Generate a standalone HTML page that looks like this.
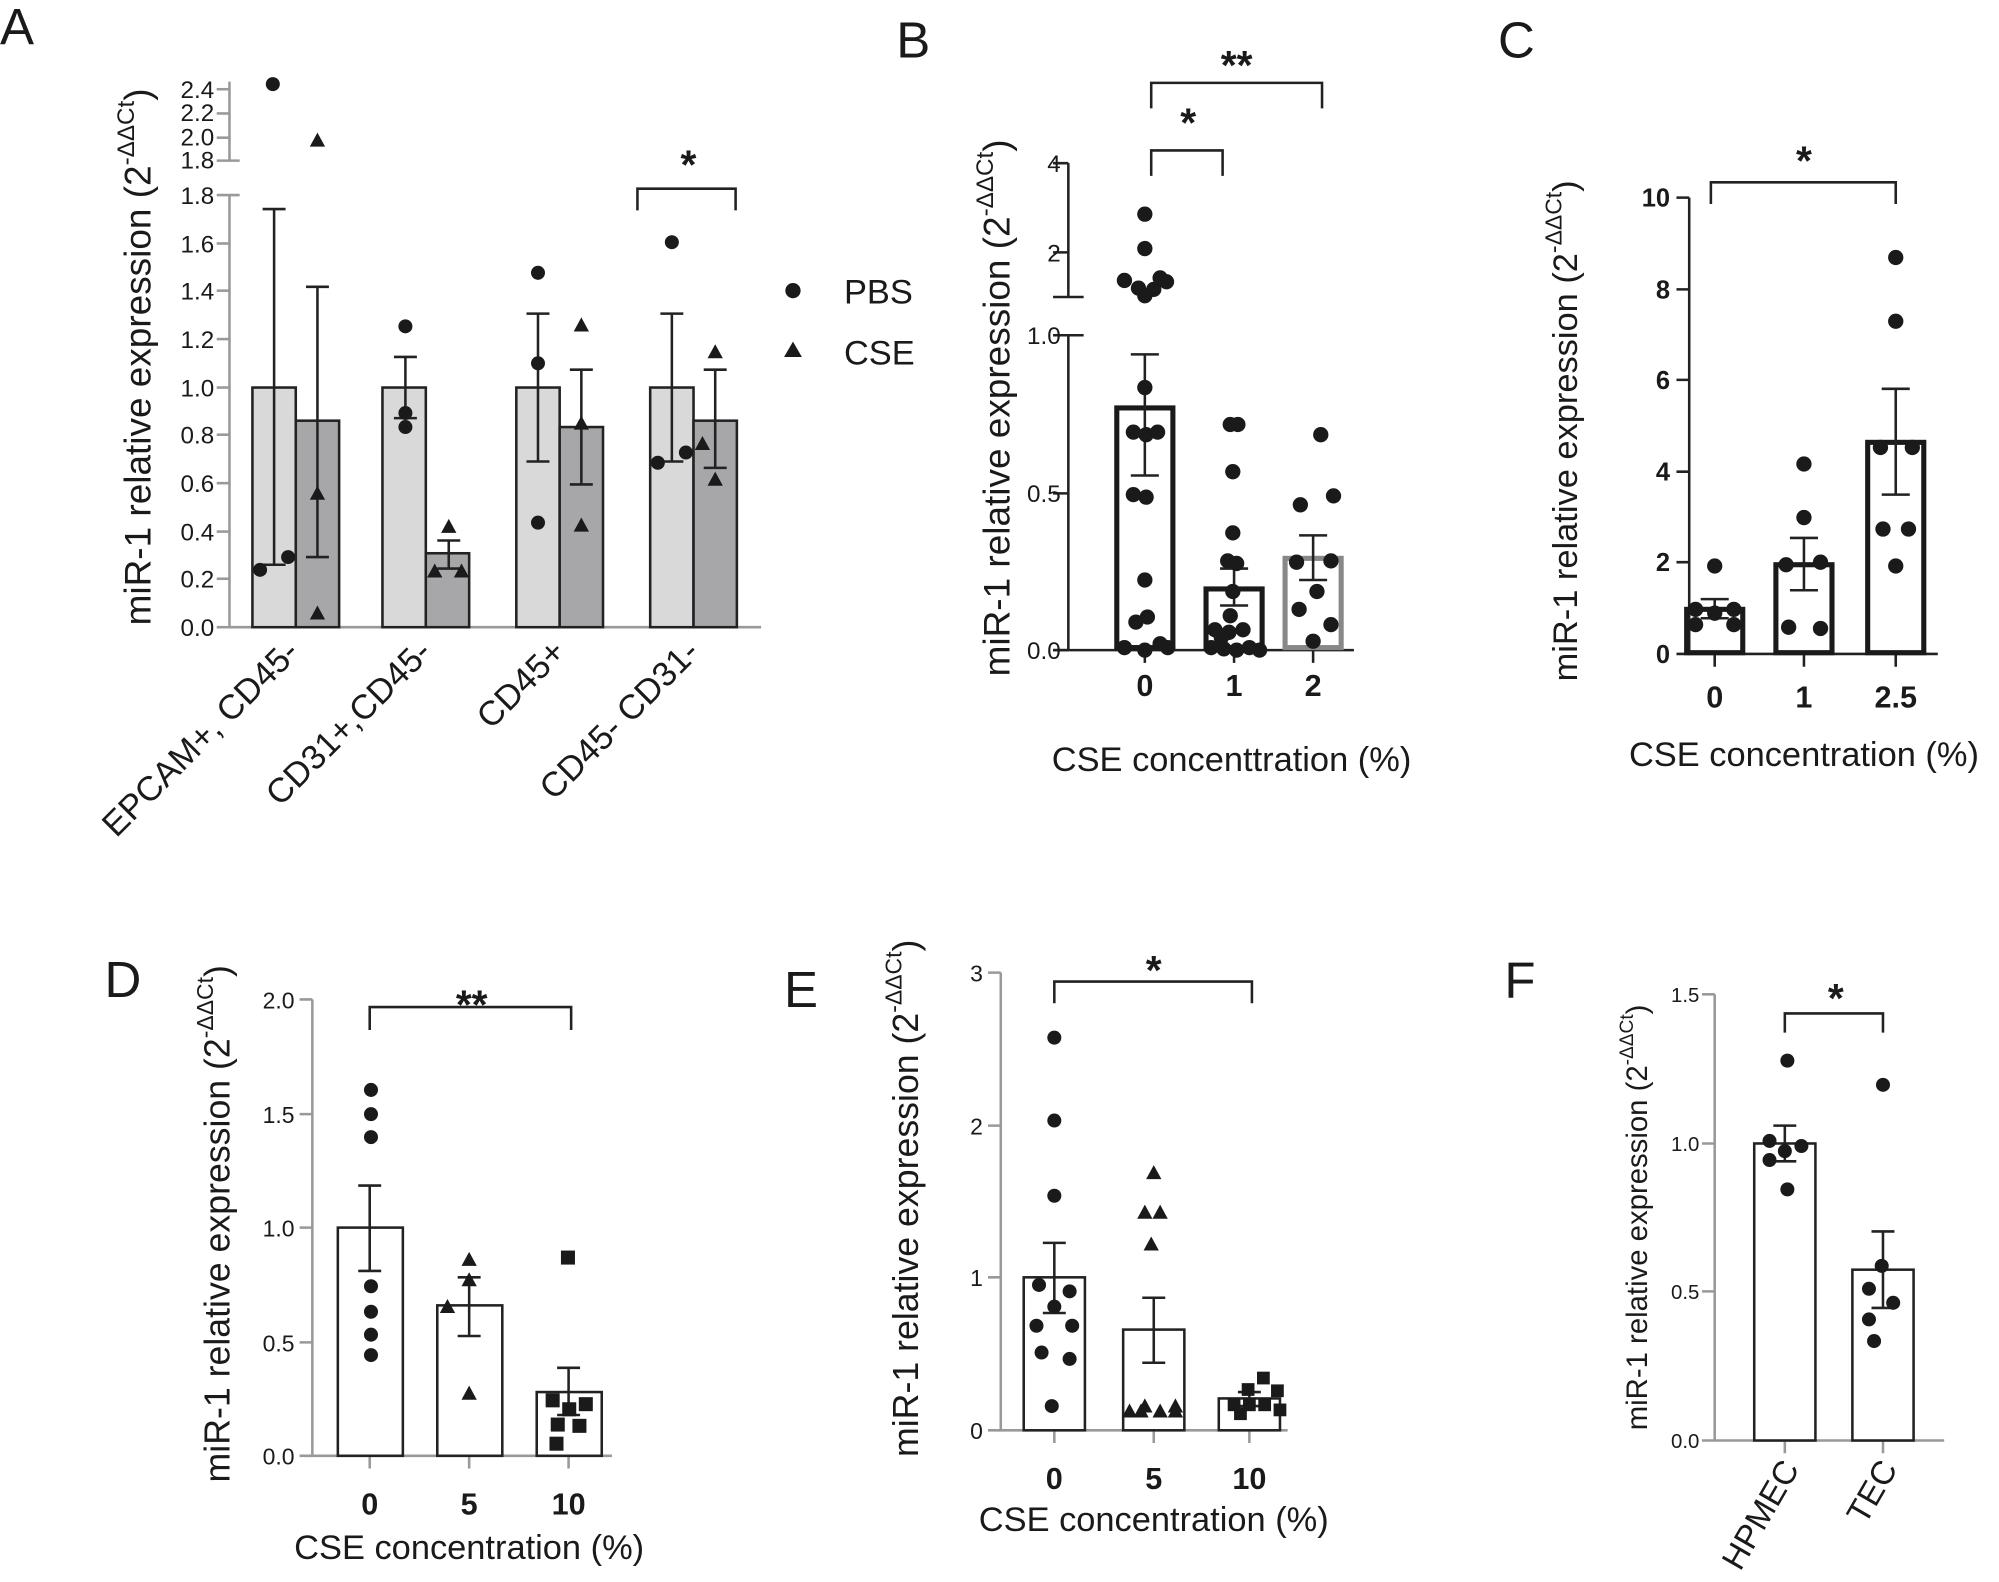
<!DOCTYPE html>
<html><head><meta charset="utf-8"><style>
html,body{margin:0;padding:0;background:#fff;}
svg{display:block;}
text{font-family:"Liberation Sans",Arial,sans-serif;fill:#1a1a1a;}
</style></head><body>
<svg width="1999" height="1582" viewBox="0 0 1568 1241" preserveAspectRatio="none" xmlns="http://www.w3.org/2000/svg">
<g font-size="40">
<text x="0" y="35">A</text><text x="703" y="45">B</text><text x="1175" y="45">C</text>
<text x="82" y="782">D</text><text x="615" y="790">E</text><text x="1180" y="783">F</text>
</g>

<!-- ============ PANEL A ============ -->
<g stroke="#999" stroke-width="2" fill="none">
<line x1="180" y1="153" x2="180" y2="492"/><line x1="180" y1="64" x2="180" y2="126"/>
<line x1="180" y1="492" x2="597" y2="492"/>
<line x1="170" y1="153" x2="188" y2="153"/><line x1="170" y1="126" x2="188" y2="126"/>
<line x1="170" y1="108" x2="180" y2="108"/><line x1="170" y1="89" x2="180" y2="89"/><line x1="170" y1="70" x2="180" y2="70"/>
<line x1="170" y1="191" x2="180" y2="191"/><line x1="170" y1="228" x2="180" y2="228"/><line x1="170" y1="266" x2="180" y2="266"/>
<line x1="170" y1="304" x2="180" y2="304"/><line x1="170" y1="341" x2="180" y2="341"/><line x1="170" y1="379" x2="180" y2="379"/>
<line x1="170" y1="417" x2="180" y2="417"/><line x1="170" y1="454" x2="180" y2="454"/><line x1="170" y1="492" x2="180" y2="492"/>
</g>
<g font-size="19" text-anchor="end">
<text x="168" y="77">2.4</text><text x="168" y="95">2.2</text><text x="168" y="114">2.0</text><text x="168" y="132">1.8</text>
<text x="168" y="160">1.8</text><text x="168" y="198">1.6</text><text x="168" y="235">1.4</text><text x="168" y="273">1.2</text>
<text x="168" y="311">1.0</text><text x="168" y="348">0.8</text><text x="168" y="386">0.6</text><text x="168" y="424">0.4</text>
<text x="168" y="461">0.2</text><text x="168" y="499">0.0</text>
</g>
<text transform="translate(118,280) rotate(-90)" font-size="29" text-anchor="middle">miR-1 relative expression (2<tspan font-size="19" dy="-13">-ΔΔCt</tspan><tspan dy="13">)</tspan></text>
<g stroke="#222" stroke-width="2">
<rect x="198" y="304" width="34" height="188" fill="#d9d9d9"/><rect x="232" y="330" width="34" height="162" fill="#a7a7a9"/>
<rect x="300" y="304" width="34" height="188" fill="#d9d9d9"/><rect x="334" y="434" width="34" height="58" fill="#a7a7a9"/>
<rect x="405" y="304" width="34" height="188" fill="#d9d9d9"/><rect x="439" y="335" width="34" height="157" fill="#a7a7a9"/>
<rect x="510" y="304" width="34" height="188" fill="#d9d9d9"/><rect x="544" y="330" width="34" height="162" fill="#a7a7a9"/>
</g>
<g stroke="#222" stroke-width="2" fill="none">
<path d="M215 164V443M206 164H224M206 443H224"/>
<path d="M249 225V437M240 225H258M240 437H258"/>
<path d="M318 280V328M309 280H327M309 328H327"/>
<path d="M352 424V446M343 424H361M343 446H361"/>
<path d="M422 246V362M413 246H431M413 362H431"/>
<path d="M456 290V380M447 290H465M447 380H465"/>
<path d="M527 246V362M518 246H536M518 362H536"/>
<path d="M561 290V367M552 290H570M552 367H570"/>
<path d="M500 165V148H577V165"/>
</g>
<text x="540" y="140" font-size="32" font-weight="bold" text-anchor="middle">*</text>
<g fill="#1a1a1a">
<circle cx="214" cy="66" r="5.5"/><circle cx="204" cy="447" r="5.5"/><circle cx="226" cy="437" r="5.5"/>
<path d="M249 104l6 11h-12z M249 381l6 11h-12z M249 475l6 11h-12z"/>
<circle cx="318" cy="256" r="5.5"/><circle cx="318" cy="324" r="5.5"/><circle cx="318" cy="335" r="5.5"/>
<path d="M352 407l6 11h-12z M341 442l6 11h-12z M362 442l6 11h-12z"/>
<circle cx="422" cy="214" r="5.5"/><circle cx="422" cy="285" r="5.5"/><circle cx="422" cy="410" r="5.5"/>
<path d="M456 249l6 11h-12z M456 326l6 11h-12z M456 406l6 11h-12z"/>
<circle cx="527" cy="190" r="5.5"/><circle cx="516" cy="363" r="5.5"/><circle cx="538" cy="355" r="5.5"/>
<path d="M561 270l6 11h-12z M551 342l6 11h-12z M561 370l6 11h-12z"/>
<circle cx="622" cy="228" r="6"/><path d="M622 268l7 12h-14z"/>
</g>
<text x="662" y="238" font-size="27">PBS</text><text x="662" y="286" font-size="27">CSE</text>
<g font-size="27" text-anchor="end">
<text transform="translate(236,513) rotate(-45)">EPCAM+, CD45-</text>
<text transform="translate(340,513) rotate(-45)">CD31+,CD45-</text>
<text transform="translate(445,513) rotate(-45)">CD45+</text>
<text transform="translate(550,513) rotate(-45)">CD45- CD31-</text>
</g>

<!-- ============ PANEL B ============ -->
<g stroke="#222" stroke-width="2" fill="none">
<path d="M838 128V233M826 233H850M826 128H838M826 198H838"/>
<path d="M838 263V510M826 263H850M826 387H838M826 510H838"/>
<path d="M826 510H1062"/>
<path d="M898 510V520M968 510V520M1030 510V520"/>
<path d="M903 138V118H959V138"/><path d="M903 85V65H1037V85"/>
</g>
<g font-size="19" text-anchor="end">
<text x="832" y="135">4</text><text x="832" y="205">2</text><text x="832" y="270">1.0</text><text x="832" y="394">0.5</text><text x="832" y="517">0.0</text>
</g>
<text x="932" y="107" font-size="32" font-weight="bold" text-anchor="middle">*</text>
<text x="970" y="62" font-size="32" font-weight="bold" text-anchor="middle">**</text>
<text transform="translate(792,320) rotate(-90)" font-size="29" text-anchor="middle">miR-1 relative expression (2<tspan font-size="19" dy="-13">-ΔΔCt</tspan><tspan dy="13">)</tspan></text>
<rect x="876" y="320" width="44" height="188" fill="none" stroke="#1a1a1a" stroke-width="4"/>
<rect x="946" y="462" width="44" height="46" fill="none" stroke="#1a1a1a" stroke-width="4"/>
<rect x="1008" y="438" width="44" height="70" fill="none" stroke="#888" stroke-width="4"/>
<g stroke="#222" stroke-width="2" fill="none">
<path d="M898 278V373M887 278H909M887 373H909"/>
<path d="M968 446V475M957 446H979M957 475H979"/>
<path d="M1030 420V455M1019 420H1041M1019 455H1041"/>
</g>
<g fill="#1a1a1a">
<circle cx="898" cy="168" r="6"/><circle cx="898" cy="195" r="6"/><circle cx="882" cy="220" r="6"/><circle cx="893" cy="226" r="6"/>
<circle cx="898" cy="232" r="6"/><circle cx="905" cy="227" r="6"/><circle cx="910" cy="218" r="6"/><circle cx="915" cy="221" r="6"/>
<circle cx="898" cy="304" r="6"/><circle cx="889" cy="339" r="6"/><circle cx="899" cy="341" r="6"/><circle cx="908" cy="339" r="6"/>
<circle cx="889" cy="388" r="6"/><circle cx="899" cy="390" r="6"/><circle cx="898" cy="455" r="6"/><circle cx="891" cy="488" r="6"/>
<circle cx="900" cy="484" r="6"/><circle cx="882" cy="508" r="6"/><circle cx="898" cy="510" r="6"/><circle cx="910" cy="505" r="6"/><circle cx="916" cy="508" r="6"/>
<circle cx="965" cy="333" r="6"/><circle cx="971" cy="333" r="6"/><circle cx="967" cy="370" r="6"/><circle cx="967" cy="418" r="6"/>
<circle cx="963" cy="440" r="6"/><circle cx="970" cy="442" r="6"/><circle cx="967" cy="464" r="6"/><circle cx="965" cy="483" r="6"/>
<circle cx="953" cy="494" r="6"/><circle cx="964" cy="496" r="6"/><circle cx="975" cy="494" r="6"/><circle cx="950" cy="508" r="6"/>
<circle cx="960" cy="509" r="6"/><circle cx="970" cy="510" r="6"/><circle cx="980" cy="508" r="6"/><circle cx="988" cy="510" r="6"/><circle cx="958" cy="500" r="6"/>
<circle cx="1036" cy="341" r="6"/><circle cx="1020" cy="396" r="6"/><circle cx="1046" cy="389" r="6"/><circle cx="1017" cy="441" r="6"/>
<circle cx="1044" cy="440" r="6"/><circle cx="1033" cy="464" r="6"/><circle cx="1019" cy="478" r="6"/><circle cx="1044" cy="490" r="6"/><circle cx="1030" cy="503" r="6"/>
</g>
<g font-size="24" font-weight="bold" text-anchor="middle"><text x="898" y="546">0</text><text x="968" y="546">1</text><text x="1030" y="546">2</text></g>
<text x="966" y="605" font-size="27" text-anchor="middle">CSE concenttration (%)</text>

<!-- ============ PANEL C ============ -->
<g stroke="#222" stroke-width="2" fill="none">
<path d="M1325 155V513H1520"/>
<path d="M1315 155H1325M1315 227H1325M1315 298H1325M1315 370H1325M1315 441H1325M1315 513H1325"/>
<path d="M1345 513V523M1415 513V523M1487 513V523"/>
<path d="M1342 160V143H1487V160"/>
</g>
<g font-size="20" font-weight="bold" text-anchor="end">
<text x="1310" y="162">10</text><text x="1310" y="234">8</text><text x="1310" y="305">6</text><text x="1310" y="377">4</text><text x="1310" y="448">2</text><text x="1310" y="520">0</text>
</g>
<text x="1415" y="137" font-size="32" font-weight="bold" text-anchor="middle">*</text>
<text transform="translate(1237,338) rotate(-90)" font-size="27" text-anchor="middle">miR-1 relative expression (2<tspan font-size="18" dy="-12">-ΔΔCt</tspan><tspan dy="12">)</tspan></text>
<rect x="1323" y="478" width="44" height="34" fill="none" stroke="#1a1a1a" stroke-width="4"/>
<rect x="1393" y="443" width="44" height="69" fill="none" stroke="#1a1a1a" stroke-width="4"/>
<rect x="1465" y="347" width="44" height="165" fill="none" stroke="#1a1a1a" stroke-width="4"/>
<g stroke="#222" stroke-width="2" fill="none">
<path d="M1345 470V485M1334 470H1356M1334 485H1356"/>
<path d="M1415 422V463M1404 422H1426M1404 463H1426"/>
<path d="M1487 305V388M1476 305H1498M1476 388H1498"/>
</g>
<g fill="#1a1a1a">
<circle cx="1345" cy="444" r="6"/><circle cx="1330" cy="478" r="6"/><circle cx="1360" cy="478" r="6"/><circle cx="1345" cy="481" r="6"/>
<circle cx="1330" cy="490" r="6"/><circle cx="1360" cy="490" r="6"/>
<circle cx="1415" cy="364" r="6"/><circle cx="1415" cy="406" r="6"/><circle cx="1401" cy="443" r="6"/><circle cx="1428" cy="441" r="6"/>
<circle cx="1403" cy="492" r="6"/><circle cx="1428" cy="493" r="6"/>
<circle cx="1487" cy="202" r="6"/><circle cx="1487" cy="252" r="6"/><circle cx="1475" cy="351" r="6"/><circle cx="1500" cy="351" r="6"/>
<circle cx="1477" cy="415" r="6"/><circle cx="1497" cy="415" r="6"/><circle cx="1487" cy="444" r="6"/>
</g>
<g font-size="24" font-weight="bold" text-anchor="middle"><text x="1345" y="555">0</text><text x="1415" y="555">1</text><text x="1487" y="555">2.5</text></g>
<text x="1415" y="601" font-size="27" text-anchor="middle">CSE concentration (%)</text>

<!-- ============ PANEL D ============ -->
<g stroke="#999" stroke-width="2" fill="none">
<path d="M245 784V1142H480"/>
<path d="M235 784H245M235 874H245M235 963H245M235 1053H245M235 1142H245"/>
<path d="M290 1142V1152M368 1142V1152M446 1142V1152"/>
</g>
<path d="M290 808V790H448V808" stroke="#222" stroke-width="2" fill="none"/>
<g font-size="18" text-anchor="end" fill="#333">
<text x="231" y="791">2.0</text><text x="231" y="881">1.5</text><text x="231" y="970">1.0</text><text x="231" y="1060">0.5</text><text x="231" y="1149">0.0</text>
</g>
<text x="370" y="799" font-size="32" font-weight="bold" text-anchor="middle">**</text>
<text transform="translate(180,960) rotate(-90)" font-size="28" text-anchor="middle">miR-1 relative expression (2<tspan font-size="18" dy="-13">-ΔΔCt</tspan><tspan dy="13">)</tspan></text>
<g stroke="#222" stroke-width="2" fill="#fff">
<rect x="265" y="963" width="51" height="179"/><rect x="343" y="1024" width="51" height="118"/><rect x="421" y="1092" width="51" height="50"/>
</g>
<g stroke="#222" stroke-width="2" fill="none">
<path d="M290 930V997M281 930H299M281 997H299"/>
<path d="M368 1002V1048M359 1002H377M359 1048H377"/>
<path d="M446 1073V1110M437 1073H455M437 1110H455"/>
</g>
<g fill="#1a1a1a">
<circle cx="291" cy="855" r="5.5"/><circle cx="291" cy="874" r="5.5"/><circle cx="291" cy="892" r="5.5"/><circle cx="291" cy="1009" r="5.5"/>
<circle cx="291" cy="1029" r="5.5"/><circle cx="291" cy="1047" r="5.5"/><circle cx="291" cy="1063" r="5.5"/>
<path d="M368 982l6 11h-12z M368 998l6 11h-12z M351 1019l6 11h-12z M368 1087l6 11h-12z"/>
<rect x="440" y="981" width="11" height="11"/><rect x="428" y="1093" width="11" height="11"/><rect x="441" y="1100" width="11" height="11"/>
<rect x="454" y="1096" width="11" height="11"/><rect x="432" y="1112" width="11" height="11"/><rect x="449" y="1113" width="11" height="11"/><rect x="431" y="1127" width="11" height="11"/>
</g>
<g font-size="24" font-weight="bold" text-anchor="middle"><text x="290" y="1188">0</text><text x="368" y="1188">5</text><text x="446" y="1188">10</text></g>
<text x="368" y="1223" font-size="27" text-anchor="middle">CSE concentration (%)</text>

<!-- ============ PANEL E ============ -->
<g stroke="#999" stroke-width="2" fill="none">
<path d="M785 763V1122H1010"/>
<path d="M775 763H785M775 883H785M775 1002H785M775 1122H785"/>
<path d="M827 1122V1132M905 1122V1132M980 1122V1132"/>
</g>
<path d="M827 787V770H982V787" stroke="#222" stroke-width="2" fill="none"/>
<g font-size="18" text-anchor="end" fill="#333">
<text x="771" y="770">3</text><text x="771" y="890">2</text><text x="771" y="1009">1</text><text x="771" y="1129">0</text>
</g>
<text x="905" y="772" font-size="32" font-weight="bold" text-anchor="middle">*</text>
<text transform="translate(720,940) rotate(-90)" font-size="28" text-anchor="middle">miR-1 relative expression (2<tspan font-size="18" dy="-13">-ΔΔCt</tspan><tspan dy="13">)</tspan></text>
<g stroke="#222" stroke-width="2" fill="#fff">
<rect x="803" y="1002" width="48" height="120"/><rect x="881" y="1043" width="48" height="79"/><rect x="956" y="1097" width="48" height="25"/>
</g>
<g stroke="#222" stroke-width="2" fill="none">
<path d="M827 975V1030M818 975H836M818 1030H836"/>
<path d="M905 1018V1069M896 1018H914M896 1069H914"/>
<path d="M980 1092V1103M971 1092H989M971 1103H989"/>
</g>
<g fill="#1a1a1a">
<circle cx="827" cy="814" r="5.5"/><circle cx="827" cy="879" r="5.5"/><circle cx="827" cy="938" r="5.5"/><circle cx="815" cy="1008" r="5.5"/>
<circle cx="839" cy="1013" r="5.5"/><circle cx="827" cy="1025" r="5.5"/><circle cx="813" cy="1040" r="5.5"/><circle cx="841" cy="1040" r="5.5"/>
<circle cx="817" cy="1061" r="5.5"/><circle cx="839" cy="1066" r="5.5"/><circle cx="825" cy="1103" r="5.5"/>
<path d="M905 914l6 11h-12z M898 945l6 11h-12z M910 945l6 11h-12z M903 970l6 11h-12z M898 1097l6 11h-12z M886 1101l6 11h-12z M910 1101l6 11h-12z M922 1097l6 11h-12z M922 1101l6 11h-12z M895 1101l6 11h-12z"/>
<rect x="986" y="1076" width="10" height="10"/><rect x="974" y="1085" width="10" height="10"/><rect x="997" y="1086" width="10" height="10"/>
<rect x="963" y="1097" width="10" height="10"/><rect x="975" y="1097" width="10" height="10"/><rect x="987" y="1097" width="10" height="10"/><rect x="999" y="1101" width="10" height="10"/><rect x="968" y="1104" width="10" height="10"/>
</g>
<g font-size="24" font-weight="bold" text-anchor="middle"><text x="827" y="1168">0</text><text x="905" y="1168">5</text><text x="980" y="1168">10</text></g>
<text x="905" y="1201" font-size="27" text-anchor="middle">CSE concentration (%)</text>

<!-- ============ PANEL F ============ -->
<g stroke="#999" stroke-width="2" fill="none">
<path d="M1345 780V1130H1525"/>
<path d="M1335 780H1345M1335 897H1345M1335 1013H1345M1335 1130H1345"/>
<path d="M1400 1130V1140M1477 1130V1140"/>
</g>
<path d="M1400 810V795H1477V810" stroke="#222" stroke-width="2" fill="none"/>
<g font-size="16" text-anchor="end" fill="#333">
<text x="1333" y="786">1.5</text><text x="1333" y="903">1.0</text><text x="1333" y="1019">0.5</text><text x="1333" y="1136">0.0</text>
</g>
<text x="1440" y="794" font-size="32" font-weight="bold" text-anchor="middle">*</text>
<text transform="translate(1292,955) rotate(-90)" font-size="23" text-anchor="middle">miR-1 relative expression (2<tspan font-size="15" dy="-11">-ΔΔCt</tspan><tspan dy="11">)</tspan></text>
<g stroke="#222" stroke-width="2" fill="#fff">
<rect x="1376" y="897" width="48" height="233"/><rect x="1453" y="996" width="48" height="134"/>
</g>
<g stroke="#222" stroke-width="2" fill="none">
<path d="M1400 883V911M1391 883H1409M1391 911H1409"/>
<path d="M1477 966V1026M1468 966H1486M1468 1026H1486"/>
</g>
<g fill="#1a1a1a">
<circle cx="1402" cy="832" r="5.5"/><circle cx="1388" cy="895" r="5.5"/><circle cx="1413" cy="899" r="5.5"/><circle cx="1400" cy="903" r="5.5"/>
<circle cx="1388" cy="910" r="5.5"/><circle cx="1402" cy="933" r="5.5"/>
<circle cx="1477" cy="851" r="5.5"/><circle cx="1476" cy="993" r="5.5"/><circle cx="1466" cy="1011" r="5.5"/><circle cx="1485" cy="1022" r="5.5"/>
<circle cx="1466" cy="1035" r="5.5"/><circle cx="1470" cy="1052" r="5.5"/>
</g>
<g font-size="26" text-anchor="end">
<text transform="translate(1412,1152) rotate(-60)">HPMEC</text>
<text transform="translate(1489,1152) rotate(-60)">TEC</text>
</g>
</svg>
</body></html>
